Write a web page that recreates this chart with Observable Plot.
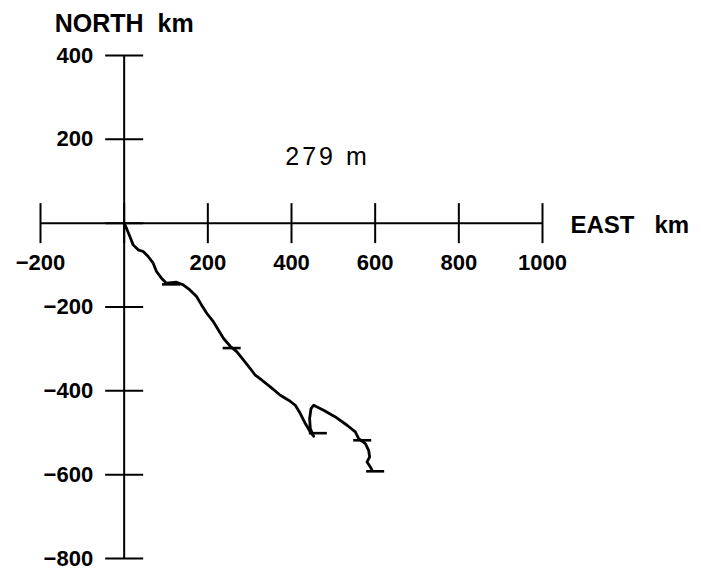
<!DOCTYPE html>
<html><head><meta charset="utf-8">
<script src="https://cdn.jsdelivr.net/npm/d3@7"></script>
<script src="https://cdn.jsdelivr.net/npm/@observablehq/plot@0.6"></script>
<style>html,body{margin:0;padding:0;background:#fff;} svg{display:block;}</style>
</head><body><div id="chart"></div>
<script>
// Progressive vector track (km east, km north)
const trackEast  = [0, 5.5, 13.6, 21.5, 33.5, 45.5, 57.4, 69.4, 77.3, 89.2, 101.2, 125.1, 141.1, 157.2, 173, 184.9, 197.8, 213.6, 225.6, 237.6, 253.6, 269.6, 285.4, 301.4, 313.4, 329.4, 349.3, 373.2, 393.1, 409.1, 421.1, 433, 445, 452.9, 445, 443.3, 446.7, 452.9, 476.8, 504.8, 532.8, 552.6, 560.5, 576.6, 584.4, 586.8, 580.6, 588.5, 592.6];
const trackNorth = [0, -11.9, -31.7, -51.8, -63.7, -67.5, -79.5, -95.5, -115.3, -131.3, -143.2, -140.8, -147.3, -159.2, -175, -195, -215.5, -235.6, -255.4, -275.2, -293.6, -307.2, -327, -346.8, -362.8, -374.7, -390.7, -410.5, -422.4, -434.4, -454.2, -478, -498.1, -508.4, -490, -466.1, -442.2, -434.4, -446.3, -462.3, -482.1, -498.1, -513.8, -525.8, -541.8, -557.8, -569.7, -581.6, -589.5];
// time markers along the track
const markerEast  = [112, 257, 463, 569, 600];
const markerNorth = [-146, -298, -501, -518, -592];
// axes
const xTicks = [-200, 0, 200, 400, 600, 800, 1000];
const xTickLabels = ["−200", "", "200", "400", "600", "800", "1000"];
const yTicks = [400, 200, 0, -200, -400, -600, -800];
const yTickLabels = ["400", "200", "", "−200", "−400", "−600", "−800"];
const xTitle = "EAST\u00a0\u00a0\u00a0km";
const yTitle = "NORTH\u00a0\u00a0km";
const annotation = [{east: 486, north: 158, label: "279\u00a0m"}];

const track = trackEast.map((e, i) => ({east: e, north: trackNorth[i]}));
const markers = markerEast.map((e, i) => ({east: e, north: markerNorth[i]}));
const xt = xTicks.map((v, i) => ({v, label: xTickLabels[i]}));
const yt = yTicks.map((v, i) => ({v, label: yTickLabels[i]}));

const vTick = {draw(ctx) { ctx.moveTo(0, -20); ctx.lineTo(0, 20); }};
const hTick = {draw(ctx) { ctx.moveTo(-19, 0); ctx.lineTo(19, 0); }};
const mTick = {draw(ctx) { ctx.moveTo(-9, 0); ctx.lineTo(9, 0); }};

const font = "Liberation Sans, Arial, Helvetica, sans-serif";

const chart = Plot.plot({
  width: 701, height: 570,
  marginLeft: 40, marginRight: 159, marginTop: 55, marginBottom: 12,
  x: {domain: [-200, 1000], axis: null},
  y: {domain: [-800, 400], axis: null},
  style: {background: "#fff", overflow: "visible"},
  marks: [
    Plot.ruleY([0], {x1: -200, x2: 1000, stroke: "black", strokeWidth: 2}),
    Plot.ruleX([0], {y1: -800, y2: 400, stroke: "black", strokeWidth: 2}),
    Plot.dot(xt, {x: "v", y: () => 0, symbol: vTick, fill: "none", stroke: "black", strokeWidth: 2}),
    Plot.dot(yt, {x: () => 0, y: "v", symbol: hTick, fill: "none", stroke: "black", strokeWidth: 2}),
    Plot.text(xt, {x: "v", y: () => 0, dy: 40, text: "label", fontSize: 22, fontWeight: "bold", fontFamily: font, fill: "black"}),
    Plot.text(yt, {x: () => 0, y: "v", dx: -31, textAnchor: "end", text: "label", fontSize: 22, fontWeight: "bold", fontFamily: font, fill: "black"}),
    Plot.text([yTitle], {x: () => 0, y: () => 400, dy: -32, text: d => d, fontSize: 25, fontWeight: "bold", fontFamily: font, fill: "black"}),
    Plot.text([xTitle], {x: () => 1000, y: () => 0, dx: 28, dy: 2, textAnchor: "start", text: d => d, fontSize: 24, fontWeight: "bold", fontFamily: font, fill: "black"}),
    Plot.text(annotation, {x: "east", y: "north", text: "label", fontSize: 25, fontFamily: font, fill: "black", className: "ann"}),
    Plot.line(track, {x: "east", y: "north", stroke: "black", strokeWidth: 2.8, strokeLinejoin: "round"}),
    Plot.dot(markers, {x: "east", y: "north", symbol: mTick, fill: "none", stroke: "black", strokeWidth: 2.6})
  ]
});
document.getElementById("chart").appendChild(chart);
d3.selectAll(".ann text").style("letter-spacing", "3px");
</script>
</body></html>
